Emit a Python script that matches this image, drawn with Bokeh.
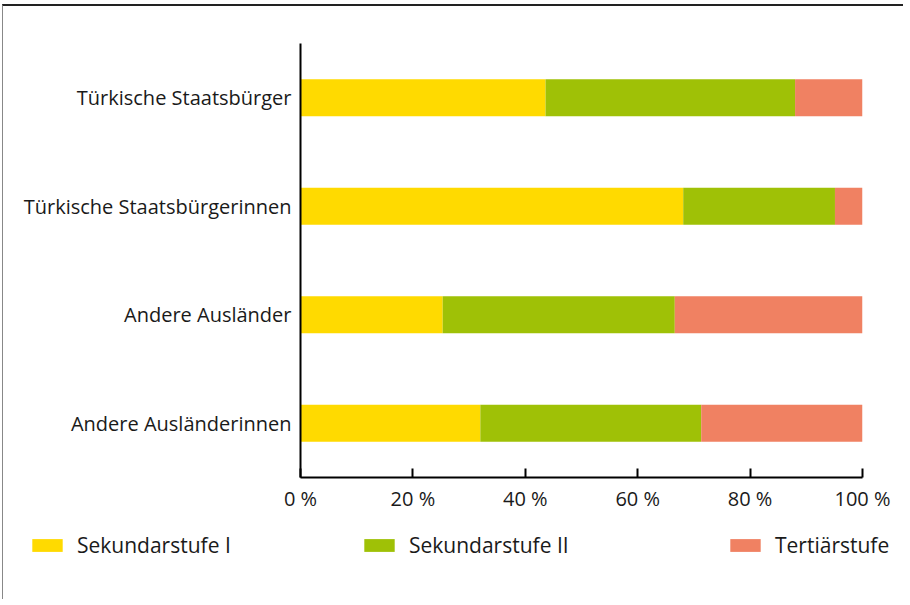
from bokeh.plotting import figure
from bokeh.layouts import column, row
from bokeh.models import (ColumnDataSource, FactorRange, Range1d, Legend, LegendItem,
                          FixedTicker)
from bokeh.embed import file_html
from bokeh.resources import INLINE

# ---- data ----
categories = ["Türkische Staatsbürger", "Türkische Staatsbürgerinnen",
              "Andere Ausländer", "Andere Ausländerinnen"]
sek1 = [43.6, 68.1, 25.3, 32.0]
sek2 = [44.4, 27.0, 41.3, 39.3]
tert = [12.0, 4.9, 33.4, 28.7]
series_names = ["Sekundarstufe I", "Sekundarstufe II", "Tertiärstufe"]
colors = ["#FFDA00", "#9FC106", "#F08162"]
x_ticks = [0, 20, 40, 60, 80, 100]
x_tick_labels = ["0 %", "20 %", "40 %", "60 %", "80 %", "100 %"]

FONT = "Open Sans"
FS = "20px"
TXT = "#1a1a1a"

source = ColumnDataSource(dict(cat=categories, s1=sek1, s2=sek2, s3=tert))

p = figure(width=900, height=512, output_backend="svg", toolbar_location=None,
           y_range=FactorRange(factors=categories[::-1], range_padding=0),
           x_range=Range1d(0, 100),
           min_border_left=297, min_border_right=41, min_border_top=37,
           min_border_bottom=41)
p.outline_line_color = None
p.grid.grid_line_color = None
p.background_fill_color = "white"
p.border_fill_color = "white"

renderers = p.hbar_stack(["s1", "s2", "s3"], y="cat", height=0.34, color=colors,
                         line_color=None, source=source)

# x axis
xa = p.xaxis[0]
xa.ticker = FixedTicker(ticks=x_ticks)
xa.major_label_overrides = {t: l for t, l in zip(x_ticks, x_tick_labels)}
xa.axis_line_color = "black"
xa.axis_line_width = 2
xa.major_tick_line_color = "black"
xa.major_tick_line_width = 2
xa.major_tick_in = 9
xa.major_tick_out = 0
xa.minor_tick_line_color = None
xa.major_label_standoff = 7
xa.major_label_text_font = FONT
xa.major_label_text_font_size = FS
xa.major_label_text_color = TXT

# y axis
ya = p.yaxis[0]
ya.axis_line_color = "black"
ya.axis_line_width = 2
ya.major_tick_line_color = None
ya.minor_tick_line_color = None
ya.major_tick_in = 0
ya.major_tick_out = 0
ya.major_label_standoff = 9
ya.major_label_text_font = FONT
ya.major_label_text_font_size = FS
ya.major_label_text_color = TXT

# ---- legend strip (separate figure below; zero-height copies of the bars carry the legend) ----
lg = figure(width=900, height=81, output_backend="svg", toolbar_location=None,
            x_range=p.x_range, y_range=FactorRange(factors=categories[::-1]),
            x_axis_type=None, y_axis_type=None,
            min_border_left=0, min_border_right=0, min_border_top=0, min_border_bottom=0)
lg.outline_line_color = None
lg.grid.grid_line_color = None
lg.border_fill_color = "white"
legend_renderers = lg.hbar_stack(["s1", "s2", "s3"], y="cat", height=0, color=colors,
                                 line_color=None, source=source)

legend_x = [25, 357, 723]
for name, r, lx in zip(series_names, legend_renderers, legend_x):
    lgd = Legend(items=[LegendItem(label=name, renderers=[r])],
                 orientation="horizontal", location=(lx, 40),
                 glyph_width=38, glyph_height=16, label_standoff=11,
                 padding=0, margin=0, border_line_color=None, background_fill_alpha=0,
                 label_text_font=FONT, label_text_font_size="21px", label_text_color=TXT,
                 label_height=16, label_text_baseline="middle")
    lg.add_layout(lgd, "center")

layout = column(p, row(lg), spacing=0)
layout.styles = {"border-top": "2px solid #222", "border-left": "1px solid #888",
                 "margin-left": "2px", "margin-top": "4px"}

open("out.html", "w").write(file_html(layout, INLINE))
